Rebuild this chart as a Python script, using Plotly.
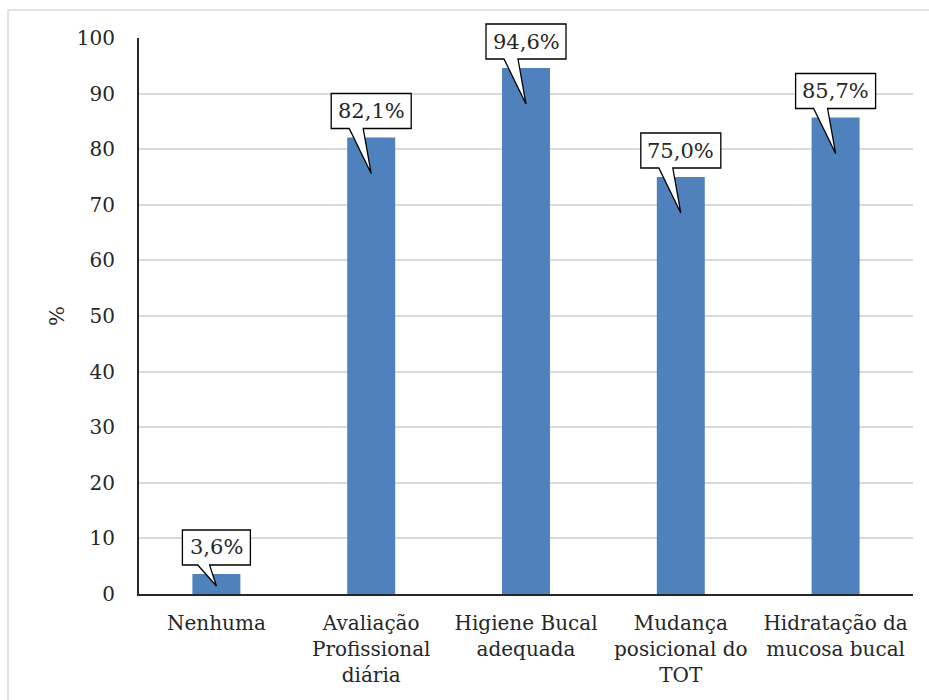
import plotly.graph_objects as go

# Oral care measures and share of patients (%)
categories = [
    "Nenhuma",
    "Avaliação<br>Profissional<br>diária",
    "Higiene Bucal<br>adequada",
    "Mudança<br>posicional do<br>TOT",
    "Hidratação da<br>mucosa bucal",
]
values = [3.6, 82.1, 94.6, 75.0, 85.7]
y_ticks = [0, 10, 20, 30, 40, 50, 60, 70, 80, 90, 100]

W, H = 929, 700
M_L, M_R, M_T, M_B = 139, 16, 38, 106
plot_w = W - M_L - M_R
plot_h = H - M_T - M_B
Y_MAX = 100
px_per_unit = plot_h / Y_MAX
n = len(categories)

FONT = "DejaVu Serif"
TEXT_COLOR = "#262626"
BAR_COLOR = "#4f81bd"


def pct_label(v):
    return f"{v:.1f}".replace(".", ",") + "%"


fig = go.Figure(
    go.Bar(
        x=list(range(n)),
        y=values,
        marker=dict(color=BAR_COLOR, line=dict(width=0)),
        width=0.31,
        hoverinfo="skip",
    )
)

shapes = []
annotations = []

# Callout boxes with a wedge-shaped tail pointing into each bar
# (anchored in paper space so the boxes are not clipped at the plot edge)
for i, v in enumerate(values):
    label = pct_label(v)
    ax = (i + 0.5) / n
    ay = v / Y_MAX
    hw = 6 * len(label) + 10          # half width of the box (px)
    yb, yt = 9, 44                    # box bottom / top above the bar top (px)
    depth = min(36, 0.6 * v * px_per_unit)
    a, b = -0.55 * hw, -0.2 * hw
    path = (
        f"M {-hw},{yb} L {a},{yb} L 0,{-depth} L {b},{yb} "
        f"L {hw},{yb} L {hw},{yt} L {-hw},{yt} Z"
    )
    shapes.append(dict(
        type="path", xref="paper", yref="paper",
        xsizemode="pixel", ysizemode="pixel",
        xanchor=ax, yanchor=ay, path=path,
        fillcolor="white", line=dict(color="#000000", width=1.3),
        layer="above",
    ))
    annotations.append(dict(
        x=ax, y=ay, xref="paper", yref="paper", text=label, showarrow=False,
        yshift=(yb + yt) / 2, xanchor="center", yanchor="middle",
        font=dict(family=FONT, size=21, color=TEXT_COLOR),
    ))

# Light frame around the chart area
shapes.append(dict(
    type="rect", xref="paper", yref="paper",
    x0=(8 - M_L) / plot_w, x1=1.2,
    y0=-0.4, y1=(plot_h + M_T - 10) / plot_h,
    line=dict(color="#d9d9d9", width=1.5), fillcolor="rgba(0,0,0,0)",
    layer="below",
))

# Axis title
annotations.append(dict(
    x=(57 - M_L) / plot_w, y=0.5, xref="paper", yref="paper",
    text="%", textangle=-90, showarrow=False,
    xanchor="center", yanchor="middle",
    font=dict(family=FONT, size=21, color=TEXT_COLOR),
))

fig.update_layout(
    width=W, height=H,
    margin=dict(l=M_L, r=M_R, t=M_T, b=M_B, pad=0),
    paper_bgcolor="white", plot_bgcolor="white",
    showlegend=False,
    shapes=shapes,
    annotations=annotations,
    font=dict(family=FONT, size=20, color=TEXT_COLOR),
    xaxis=dict(
        tickmode="array",
        tickvals=list(range(n)),
        ticktext=categories,
        range=[-0.5, n - 0.5],
        showgrid=False, zeroline=False,
        showline=True, linecolor="#262626", linewidth=2,
        ticks="", ticklabelstandoff=10,
        tickfont=dict(family=FONT, size=20, color=TEXT_COLOR),
    ),
    yaxis=dict(
        range=[0, Y_MAX],
        tickmode="array", tickvals=y_ticks,
        showgrid=True, gridcolor="#d9d9d9", gridwidth=1.5,
        zeroline=False,
        showline=True, linecolor="#262626", linewidth=2,
        ticks="", ticklabelstandoff=18,
        tickfont=dict(family=FONT, size=20, color=TEXT_COLOR),
    ),
)

fig.write_html("out.html")
